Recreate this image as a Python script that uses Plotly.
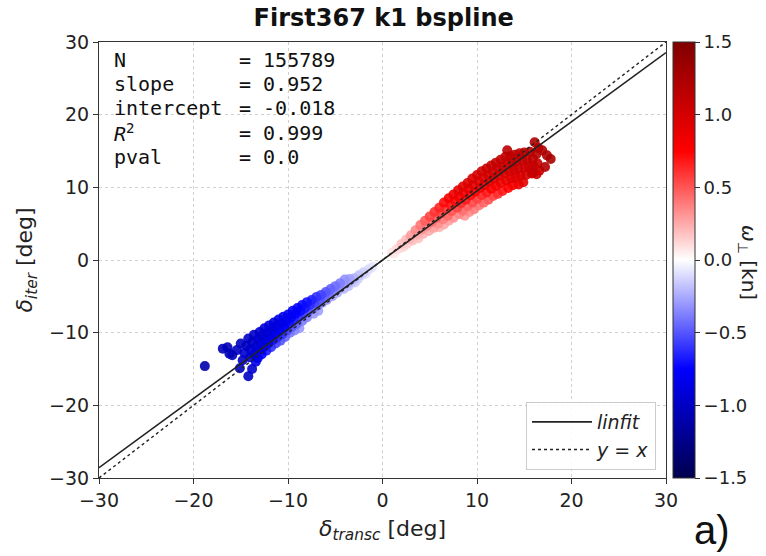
import plotly.graph_objects as go

# ---------------- data ----------------
title = "First367 k1 bspline"
x_ticks = [-30, -20, -10, 0, 10, 20, 30]
y_ticks = [-30, -20, -10, 0, 10, 20, 30]
cbar_ticks = [-1.5, -1.0, -0.5, 0.0, 0.5, 1.0, 1.5]

stat_labels = ["N", "slope", "intercept", "<i>R</i><sup>2</sup>", "pval"]
stat_values = ["= 155789", "= 0.952", "= -0.018", "= 0.999", "= 0.0"]
slope = 0.952
intercept = -0.018
line_x = [-30, 30]

# delta_transc, delta_iter, omega_perp  (positive branch)
red_x = [1.0, 1.2, 2.0, 2.2, 1.8, 3.0, 3.2, 2.9, 4.0, 4.2, 4.3, 5.0, 5.2, 5.4,
         6.0, 6.2, 6.4, 6.5, 7.0, 7.2, 7.3, 7.5, 8.0, 8.1, 8.3, 8.5, 8.7,
         9.0, 9.1, 9.3, 9.5, 9.7, 10.0, 10.2, 10.3, 10.5, 10.7,
         11.0, 11.2, 11.3, 11.5, 11.7, 12.0, 12.2, 12.3, 12.5, 12.7,
         13.0, 13.2, 13.4, 13.6, 13.8, 14.0, 14.2, 14.4, 14.6, 14.9,
         15.0, 15.3, 15.5, 15.8, 16.1, 16.3, 16.4, 16.6,
         13.2, 16.9, 17.8, 15.9, 17.2,
         1.5, 2.5, 2.6, 3.5, 3.7, 3.8, 4.5, 4.7, 4.9, 5.5, 5.7, 5.9, 6.0,
         6.5, 6.7, 6.9, 7.0, 7.5, 7.7, 7.9, 8.1, 8.5, 8.6, 8.8, 9.0, 9.2,
         9.5, 9.6, 9.8, 10.0, 10.2, 10.5, 10.7, 10.8, 11.0, 11.2,
         11.5, 11.7, 11.8, 12.0, 12.2, 12.5, 12.7, 12.9, 13.1, 13.3,
         13.5, 13.7, 13.9, 14.1, 14.4, 14.5, 14.8, 15.0, 15.2,
         15.6, 15.9, 16.0, 16.3, 16.5, 17.4]
red_y = [1.0, 0.9, 2.2, 1.8, 1.6, 3.4, 2.7, 2.9, 4.8, 4.2, 3.6, 6.0, 5.2, 4.4,
         7.2, 6.4, 5.6, 4.9, 8.5, 7.6, 6.7, 5.8, 9.6, 8.7, 7.8, 6.8, 6.1,
         10.6, 9.8, 8.9, 7.9, 7.0, 11.7, 10.8, 9.9, 8.9, 7.9,
         12.6, 11.7, 10.8, 9.8, 8.8, 13.4, 12.6, 11.6, 10.6, 9.5,
         14.2, 13.2, 12.2, 11.2, 10.3, 14.5, 13.6, 12.6, 11.6, 10.7,
         14.8, 13.8, 12.8, 11.9, 16.2, 14.6, 13.3, 12.3,
         15.1, 15.1, 13.9, 12.0, 12.8,
         1.5, 2.8, 2.2, 4.1, 3.5, 3.0, 5.4, 4.7, 4.0, 6.6, 5.8, 5.0, 4.5,
         7.9, 7.0, 6.1, 5.4, 9.0, 8.1, 7.2, 6.3, 10.1, 9.2, 8.3, 7.4, 6.6,
         11.2, 10.3, 9.4, 8.4, 7.5, 12.2, 11.3, 10.3, 9.3, 8.3,
         13.0, 12.1, 11.2, 10.2, 9.1, 13.8, 12.9, 11.9, 10.9, 9.9,
         14.3, 13.4, 12.4, 11.4, 10.4, 14.7, 13.7, 12.7, 11.7,
         14.9, 13.9, 12.9, 11.8, 15.4, 14.4]
red_w = [0.08, 0.06, 0.18, 0.12, 0.10, 0.28, 0.18, 0.22, 0.40, 0.32, 0.22, 0.55, 0.42, 0.28,
         0.65, 0.55, 0.38, 0.25, 0.80, 0.68, 0.50, 0.32, 0.90, 0.78, 0.62, 0.42, 0.30,
         0.95, 0.88, 0.72, 0.52, 0.38, 1.00, 0.95, 0.82, 0.62, 0.45,
         1.05, 1.00, 0.90, 0.75, 0.55, 1.10, 1.05, 0.95, 0.85, 0.68,
         1.10, 1.05, 1.00, 0.90, 0.80, 1.15, 1.10, 1.05, 0.95, 0.90,
         1.15, 1.10, 1.05, 1.00, 1.20, 1.15, 1.10, 1.05,
         1.15, 1.20, 1.25, 1.10, 1.20,
         0.10, 0.20, 0.14, 0.34, 0.24, 0.18, 0.48, 0.36, 0.24, 0.60, 0.48, 0.33, 0.22,
         0.72, 0.60, 0.44, 0.28, 0.85, 0.72, 0.56, 0.36, 0.92, 0.84, 0.68, 0.46, 0.34,
         0.98, 0.92, 0.78, 0.56, 0.40, 1.02, 0.98, 0.86, 0.68, 0.50,
         1.08, 1.02, 0.92, 0.80, 0.62, 1.10, 1.05, 0.98, 0.88, 0.75,
         1.12, 1.08, 1.02, 0.95, 0.85, 1.15, 1.10, 1.05, 1.00,
         1.18, 1.12, 1.08, 1.05, 1.20, 1.25]

# negative branch
blue_x = [-1.0, -1.2, -2.0, -2.2, -1.8, -3.0, -3.2, -2.9, -4.0, -4.2, -4.1,
          -5.0, -5.2, -5.3, -6.0, -6.2, -6.4, -7.0, -7.2, -7.4, -7.3,
          -8.0, -8.2, -8.4, -8.5, -8.8, -9.0, -9.2, -9.4, -9.6, -9.8,
          -10.0, -10.2, -10.4, -10.6, -10.8, -11.0, -11.2, -11.4, -11.6, -11.8,
          -12.0, -12.2, -12.4, -12.6, -12.8, -13.0, -13.2, -13.4, -13.6, -13.4,
          -14.2, -14.4, -14.6, -14.0,
          -18.8, -16.9, -14.2, -15.1, -15.9, -15.4, -16.2,
          -1.5, -2.5, -2.6, -3.5, -3.7, -3.6, -4.5, -4.7, -4.8, -5.5, -5.7, -5.9,
          -6.5, -6.7, -6.9, -6.8, -7.5, -7.7, -7.9, -8.0,
          -8.5, -8.7, -8.9, -9.1, -9.3, -9.5, -9.7, -9.9, -10.1, -10.3,
          -10.5, -10.7, -10.9, -11.1, -11.3, -11.5, -11.7, -11.9, -12.1, -12.3,
          -12.5, -12.7, -12.9, -13.1, -13.2, -13.6, -13.8, -14.0,
          -15.0, -16.4, -14.8, -13.8]
blue_y = [-0.9, -1.1, -1.7, -2.1, -1.9, -2.5, -3.0, -3.1, -2.7, -3.4, -4.0,
          -3.6, -4.3, -5.0, -4.4, -5.1, -5.9, -5.1, -5.9, -6.7, -7.4,
          -5.8, -6.6, -7.5, -8.4, -9.4, -6.6, -7.4, -8.3, -9.2, -10.0,
          -7.5, -8.4, -9.3, -10.2, -11.1, -8.2, -9.1, -10.1, -11.0, -12.0,
          -9.0, -10.0, -11.0, -12.0, -13.0, -9.9, -10.9, -11.9, -12.9, -14.0,
          -10.8, -11.8, -12.8, -13.4,
          -14.6, -12.2, -16.0, -14.9, -13.1, -12.4, -12.9,
          -1.3, -2.1, -2.6, -2.6, -3.2, -3.6, -3.2, -3.9, -4.5, -4.0, -4.7, -5.5,
          -4.8, -5.5, -6.3, -7.0, -5.5, -6.2, -7.1, -7.9,
          -6.2, -7.0, -7.9, -8.8, -9.7, -7.0, -7.9, -8.8, -9.7, -10.6,
          -7.8, -8.7, -9.7, -10.6, -11.5, -8.6, -9.5, -10.5, -11.5, -12.5,
          -9.4, -10.4, -11.4, -12.4, -13.5, -10.3, -11.3, -12.3,
          -11.5, -12.0, -13.8, -15.0]
blue_w = [-0.06, -0.08, -0.14, -0.12, -0.10, -0.22, -0.18, -0.14, -0.32, -0.28, -0.20,
          -0.42, -0.36, -0.26, -0.50, -0.45, -0.32, -0.60, -0.55, -0.42, -0.30,
          -0.70, -0.68, -0.55, -0.38, -0.30, -0.75, -0.75, -0.65, -0.50, -0.40,
          -0.80, -0.82, -0.75, -0.60, -0.50, -0.85, -0.88, -0.80, -0.70, -0.60,
          -0.90, -0.92, -0.88, -0.80, -0.75, -0.95, -0.95, -0.92, -0.85, -0.85,
          -1.00, -1.00, -0.95, -0.90,
          -1.10, -1.05, -1.00, -1.00, -1.05, -1.00, -1.05,
          -0.10, -0.18, -0.14, -0.28, -0.24, -0.18, -0.38, -0.32, -0.24, -0.46, -0.42, -0.30,
          -0.55, -0.50, -0.38, -0.28, -0.65, -0.62, -0.50, -0.36,
          -0.72, -0.72, -0.60, -0.45, -0.35, -0.78, -0.78, -0.70, -0.55, -0.45,
          -0.82, -0.85, -0.78, -0.65, -0.55, -0.88, -0.90, -0.85, -0.75, -0.68,
          -0.92, -0.94, -0.90, -0.82, -0.80, -0.98, -0.98, -0.95,
          -1.02, -1.05, -0.98, -0.95]

# ---------------- figure ----------------
seismic = [[0.0, "rgb(0,0,77)"], [0.25, "rgb(0,0,255)"], [0.5, "rgb(255,255,255)"],
           [0.75, "rgb(255,0,0)"], [1.0, "rgb(128,0,0)"]]

pts = list(zip(red_x + blue_x, red_y + blue_y, red_w + blue_w))
pts.sort(key=lambda p: abs(p[2]))
px_ = [p[0] for p in pts]
py_ = [p[1] for p in pts]
pw_ = [p[2] for p in pts]

PW, PH = 766, 556
L, R, T, B = 99, 666, 42, 478
def pxx(v):
    return (v - L) / (R - L)
def pxy(v):
    return (B - v) / (B - T)

fig = go.Figure()
fig.add_trace(go.Scatter(
    x=px_, y=py_, mode="markers", showlegend=False,
    marker=dict(size=10, color=pw_, colorscale=seismic, cmin=-1.5, cmax=1.5,
                opacity=0.9, line=dict(width=0),
                colorbar=dict(x=pxx(673), xanchor="left", xpad=0, ypad=0,
                              y=0.5, yanchor="middle", len=1, lenmode="fraction",
                              thickness=22, thicknessmode="pixels",
                              outlinewidth=1, outlinecolor="#333",
                              tickvals=cbar_ticks, tickformat=".1f",
                              ticks="outside", ticklen=5, tickcolor="#333",
                              tickfont=dict(family="DejaVu Sans", size=18, color="#222"))),
))
fig.add_trace(go.Scatter(
    x=line_x, y=[slope * v + intercept for v in line_x], mode="lines",
    name="<i>linfit</i>", line=dict(color="#222", width=1.6)))
fig.add_trace(go.Scatter(
    x=line_x, y=line_x, mode="lines",
    name="<i>y</i> = <i>x</i>", line=dict(color="#222", width=1.4, dash="dot")))

axis_common = dict(range=[-30, 30], showline=True, mirror=True, linecolor="#333",
                   linewidth=1, ticks="outside", ticklen=5, tickcolor="#333",
                   showgrid=True, gridcolor="#d0d0d0", griddash="dot", gridwidth=1,
                   zeroline=False, tickfont=dict(family="DejaVu Sans", size=19, color="#222"))

fig.update_layout(
    width=PW, height=PH, plot_bgcolor="white", paper_bgcolor="white",
    margin=dict(l=L, r=PW - R, t=T, b=PH - B, autoexpand=False),
    title=dict(text="<b>" + title + "</b>", x=pxx(383), xanchor="center",
               y=1 - 18 / PH, yanchor="middle",
               font=dict(family="DejaVu Sans", size=24, color="#111")),
    xaxis=dict(axis_common, tickvals=x_ticks,
               title=dict(text="<i>δ</i><sub><i>transc</i></sub> [deg]", standoff=10,
                          font=dict(family="DejaVu Sans", size=22, color="#222"))),
    yaxis=dict(axis_common, tickvals=y_ticks,
               title=dict(text="<i>δ</i><sub><i>iter</i></sub> [deg]", standoff=10,
                          font=dict(family="DejaVu Sans", size=22, color="#222"))),
    legend=dict(x=pxx(656), xanchor="right", y=pxy(470), yanchor="bottom",
                bgcolor="rgba(255,255,255,0.85)", bordercolor="#cccccc", borderwidth=1,
                font=dict(family="DejaVu Sans", size=19, color="#222"),
                itemwidth=60),
)

line_ys = [60, 84, 108, 133, 157]
for lab, val, yy in zip(stat_labels, stat_values, line_ys):
    fig.add_annotation(text=lab, xref="paper", yref="paper", x=pxx(112), y=pxy(yy),
                       xanchor="left", yanchor="middle", showarrow=False,
                       font=dict(family="DejaVu Sans Mono", size=20, color="#111"))
    fig.add_annotation(text=val, xref="paper", yref="paper", x=pxx(237), y=pxy(yy),
                       xanchor="left", yanchor="middle", showarrow=False,
                       font=dict(family="DejaVu Sans Mono", size=20, color="#111"))

fig.add_annotation(text="<i>ω</i><sub>⊥</sub> [kn]", xref="paper", yref="paper",
                   x=pxx(748), y=pxy(262), xanchor="center", yanchor="middle",
                   textangle=90, showarrow=False,
                   font=dict(family="DejaVu Sans", size=20, color="#222"))
fig.add_annotation(text="a)", xref="paper", yref="paper",
                   x=pxx(712), y=pxy(530), xanchor="center", yanchor="middle",
                   showarrow=False,
                   font=dict(family="Liberation Sans", size=40, color="#111"))

fig.write_html("out.html", config={"displayModeBar": False},
               post_script="document.body.style.margin='0';")
